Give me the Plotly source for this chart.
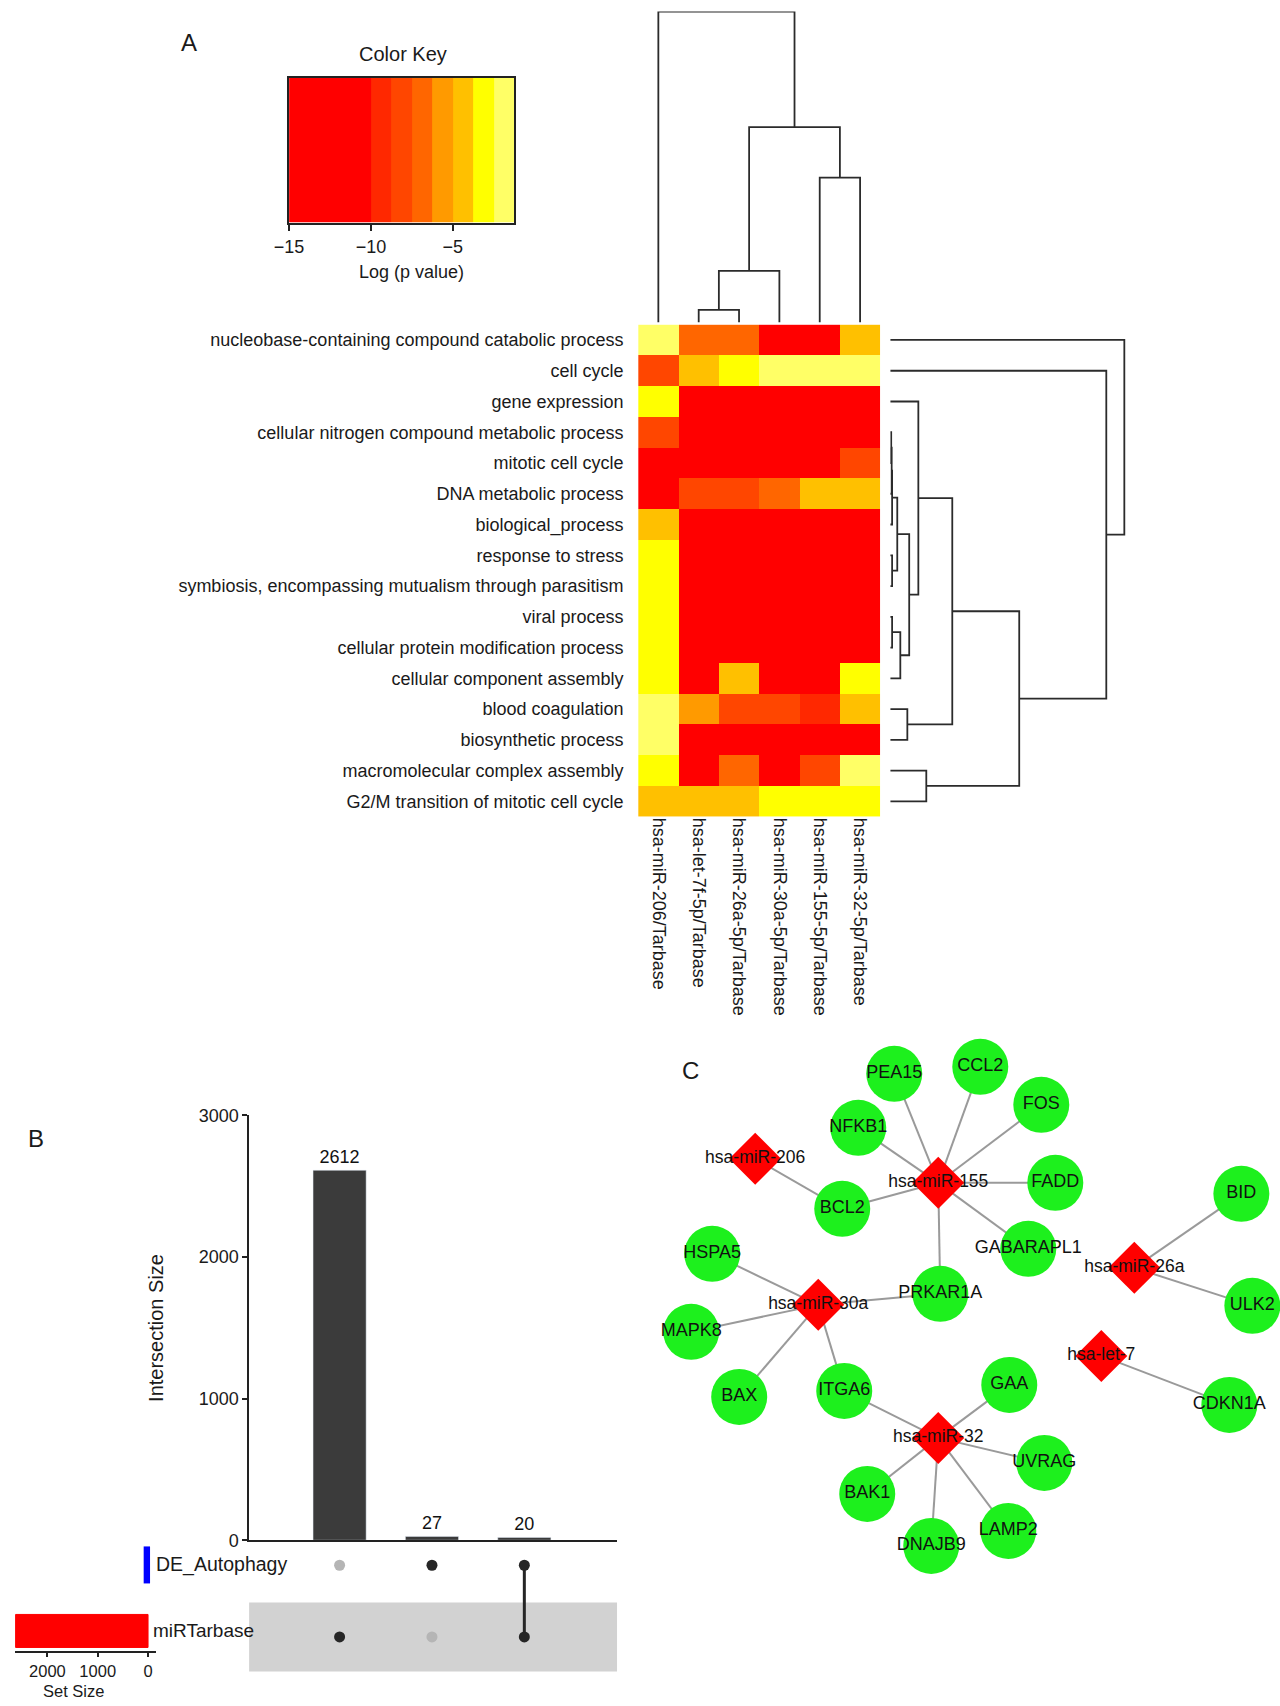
import plotly.graph_objects as go

W, H = 1280, 1706
FONT = "Liberation Sans, Arial, Helvetica, sans-serif"

# ---------------- Panel A: GO enrichment heatmap ----------------
go_terms = [
    "nucleobase-containing compound catabolic process", "cell cycle", "gene expression",
    "cellular nitrogen compound metabolic process", "mitotic cell cycle", "DNA metabolic process",
    "biological_process", "response to stress",
    "symbiosis, encompassing mutualism through parasitism", "viral process",
    "cellular protein modification process", "cellular component assembly",
    "blood coagulation", "biosynthetic process", "macromolecular complex assembly",
    "G2/M transition of mitotic cell cycle",
]
mirna_cols = [
    "hsa-miR-206/Tarbase", "hsa-let-7f-5p/Tarbase", "hsa-miR-26a-5p/Tarbase",
    "hsa-miR-30a-5p/Tarbase", "hsa-miR-155-5p/Tarbase", "hsa-miR-32-5p/Tarbase",
]
log_p = [
    [-1.9, -6.9, -6.9, -13.0, -13.0, -4.4],
    [-8.1, -4.4, -3.1, -1.9, -1.9, -1.9],
    [-3.1, -13.0, -13.0, -13.0, -13.0, -13.0],
    [-8.1, -13.0, -13.0, -13.0, -13.0, -13.0],
    [-13.0, -13.0, -13.0, -13.0, -13.0, -8.1],
    [-13.0, -8.1, -8.1, -6.9, -4.4, -4.4],
    [-4.4, -13.0, -13.0, -13.0, -13.0, -13.0],
    [-3.1, -13.0, -13.0, -13.0, -13.0, -13.0],
    [-3.1, -13.0, -13.0, -13.0, -13.0, -13.0],
    [-3.1, -13.0, -13.0, -13.0, -13.0, -13.0],
    [-3.1, -13.0, -13.0, -13.0, -13.0, -13.0],
    [-3.1, -13.0, -4.4, -13.0, -13.0, -3.1],
    [-1.9, -5.6, -8.1, -8.1, -9.4, -4.4],
    [-1.9, -13.0, -13.0, -13.0, -13.0, -13.0],
    [-3.1, -13.0, -6.9, -13.0, -8.1, -1.9],
    [-4.4, -4.4, -4.4, -3.1, -3.1, -3.1],
]
key_breaks = [-15, -10, -8.75, -7.5, -6.25, -5, -3.75, -2.5, -1.25]
key_colors = ["#FF0000", "#FF2800", "#FF4600", "#FF6600", "#FF9A00", "#FFC000", "#FFFF00", "#FFFF66"]
key_ticks = [-15, -10, -5]

# dendrogram merges (R hclust style: negative = leaf, positive = earlier merge)
col_merges = [(-2, -3, 0.41), (1, -4, 1.66), (-5, -6, 4.66), (2, 3, 6.28), (-1, 4, 10.0)]
row_merges = [
    (-4, -5, 0.04), (1, -6, 0.06), (2, -7, 0.08), (-8, -9, 0.08), (3, 4, 0.30),
    (-10, -11, 0.08), (6, -12, 0.43), (5, 7, 0.81), (-3, 8, 1.2), (-13, -14, 0.73),
    (9, 10, 2.65), (-15, -16, 1.54), (11, 12, 5.51), (-2, 13, 9.23), (-1, 14, 10.0),
]

# ---------------- Panel B: UpSet ----------------
intersect_sizes = [2612, 27, 20]
set_names = ["DE_Autophagy", "miRTarbase"]
set_sizes = [47, 2632]
set_colors = ["#0000FF", "#FF0000"]
membership = [[0, 1], [1, 0], [1, 1]]  # per intersection: (DE_Autophagy, miRTarbase)
inter_ticks = [0, 1000, 2000, 3000]
setsize_ticks = [0, 1000, 2000]

# ---------------- Panel C: miRNA-target network ----------------
mirna_nodes = ["hsa-miR-206", "hsa-miR-155", "hsa-miR-26a", "hsa-miR-30a", "hsa-let-7", "hsa-miR-32"]
mirna_x = [114, 297, 493, 177, 460, 297]
mirna_y = [158, 182, 267, 304, 355, 437]
gene_nodes = ["PEA15", "CCL2", "FOS", "NFKB1", "FADD", "BCL2", "GABARAPL1", "HSPA5", "PRKAR1A",
              "BID", "ULK2", "MAPK8", "CDKN1A", "BAX", "ITGA6", "GAA", "UVRAG", "BAK1", "LAMP2", "DNAJB9"]
gene_x = [253, 339, 400, 217, 414, 201, 387, 71, 299, 600, 611, 50, 588, 98, 203, 368, 403, 226, 367, 290]
gene_y = [73, 66, 104, 127, 182, 208, 248, 253, 293, 193, 305, 331, 404, 396, 390, 384, 462, 493, 530, 545]
edges = [
    ("hsa-miR-206", "BCL2"),
    ("hsa-miR-155", "NFKB1"), ("hsa-miR-155", "PEA15"), ("hsa-miR-155", "CCL2"),
    ("hsa-miR-155", "FOS"), ("hsa-miR-155", "FADD"), ("hsa-miR-155", "GABARAPL1"),
    ("hsa-miR-155", "PRKAR1A"), ("hsa-miR-155", "BCL2"),
    ("hsa-miR-30a", "HSPA5"), ("hsa-miR-30a", "MAPK8"), ("hsa-miR-30a", "BAX"),
    ("hsa-miR-30a", "ITGA6"), ("hsa-miR-30a", "PRKAR1A"),
    ("hsa-miR-26a", "BID"), ("hsa-miR-26a", "ULK2"),
    ("hsa-let-7", "CDKN1A"),
    ("hsa-miR-32", "ITGA6"), ("hsa-miR-32", "GAA"), ("hsa-miR-32", "UVRAG"),
    ("hsa-miR-32", "LAMP2"), ("hsa-miR-32", "DNAJB9"), ("hsa-miR-32", "BAK1"),
]

# ---------------- helpers ----------------
# small correction for the capture's observed scale/offset
S_CAP, OX, OY = 0.988, 14.0, 9.5


def tx(p):
    return (p - OX) / S_CAP


def ty(p):
    return (p - OY) / S_CAP


def xdom(a, b):
    return [max(0.0, tx(a) / W), min(1.0, tx(b) / W)]


def ydom(top, bottom):
    return [max(0.0, 1 - ty(bottom) / H), min(1.0, 1 - ty(top) / H)]


def dendro(merges, n):
    pos, hgt = {}, {}
    for i in range(n):
        pos[-(i + 1)] = i
        hgt[-(i + 1)] = 0.0
    p, h = [], []
    for k, (a, b, ht) in enumerate(merges, start=1):
        pa, pb = pos[a], pos[b]
        p += [pa, pa, pb, pb, None]
        h += [hgt[a], ht, ht, hgt[b], None]
        pos[k] = (pa + pb) / 2
        hgt[k] = ht
    return p, h


zmin, zmax = key_breaks[0], key_breaks[-1]
cscale = []
for i, c in enumerate(key_colors):
    a = (key_breaks[i] - zmin) / (zmax - zmin)
    b = (key_breaks[i + 1] - zmin) / (zmax - zmin)
    cscale += [[a, c], [b, c]]

fig = go.Figure()

# heatmap
fig.add_trace(go.Heatmap(z=log_p, x=list(range(len(mirna_cols))), y=list(range(len(go_terms))),
                         colorscale=cscale, zmin=zmin, zmax=zmax, showscale=False,
                         hoverinfo="skip", xaxis="x", yaxis="y"))
# column dendrogram
cp, ch = dendro(col_merges, len(mirna_cols))
fig.add_trace(go.Scatter(x=cp, y=ch, mode="lines", line=dict(color="#2b2b2b", width=1.8),
                         hoverinfo="skip", xaxis="x2", yaxis="y2", cliponaxis=False))
# row dendrogram
rp, rh = dendro(row_merges, len(go_terms))
fig.add_trace(go.Scatter(x=rh, y=rp, mode="lines", line=dict(color="#2b2b2b", width=1.8),
                         hoverinfo="skip", xaxis="x3", yaxis="y3", cliponaxis=False))
# color key
key_mids = [(key_breaks[i] + key_breaks[i + 1]) / 2 for i in range(len(key_colors))]
fig.add_trace(go.Heatmap(z=[key_mids], x=key_breaks, y=[0, 1], colorscale=cscale,
                         zmin=zmin, zmax=zmax, showscale=False, hoverinfo="skip",
                         xaxis="x4", yaxis="y4"))

# UpSet intersection bars
inter_x = list(range(len(intersect_sizes)))
fig.add_trace(go.Bar(x=inter_x, y=intersect_sizes, width=0.575, marker_color="#3b3b3b",
                     text=[str(v) for v in intersect_sizes], textposition="outside",
                     textfont=dict(size=18, color="#111", family=FONT), cliponaxis=False,
                     hoverinfo="skip", xaxis="x5", yaxis="y5"))
# matrix
set_rows = [len(set_names) - 1 - j for j in range(len(set_names))]  # DE on top
for i, mem in enumerate(membership):
    ys_in = [set_rows[j] for j in range(len(set_names)) if mem[j]]
    if len(ys_in) > 1:
        fig.add_trace(go.Scatter(x=[i, i], y=[min(ys_in), max(ys_in)], mode="lines",
                                 line=dict(color="#262626", width=3), hoverinfo="skip",
                                 xaxis="x6", yaxis="y6"))
dot_x, dot_y, dot_c = [], [], []
for i, mem in enumerate(membership):
    for j in range(len(set_names)):
        dot_x.append(i)
        dot_y.append(set_rows[j])
        dot_c.append("#262626" if mem[j] else "#b5b5b5")
fig.add_trace(go.Scatter(x=dot_x, y=dot_y, mode="markers", marker=dict(size=11, color=dot_c),
                         hoverinfo="skip", xaxis="x6", yaxis="y6", cliponaxis=False))
# set size bars
fig.add_trace(go.Bar(x=set_sizes, y=set_rows, orientation="h", width=0.5,
                     marker=dict(color=set_colors, line=dict(color=set_colors, width=[4, 1])),
                     hoverinfo="skip", xaxis="x7", yaxis="y7", cliponaxis=False))

# network
node_pos = {n: (x, y) for n, x, y in zip(mirna_nodes, mirna_x, mirna_y)}
node_pos.update({n: (x, y) for n, x, y in zip(gene_nodes, gene_x, gene_y)})
ex, ey = [], []
for a, b in edges:
    ex += [node_pos[a][0], node_pos[b][0], None]
    ey += [node_pos[a][1], node_pos[b][1], None]
fig.add_trace(go.Scatter(x=ex, y=ey, mode="lines", line=dict(color="#9a9a9a", width=2),
                         hoverinfo="skip", xaxis="x8", yaxis="y8", cliponaxis=False))
fig.add_trace(go.Scatter(x=gene_x, y=gene_y, mode="markers+text", text=gene_nodes,
                         textposition="middle center",
                         textfont=dict(size=18, color="#111111", family=FONT),
                         marker=dict(size=56, color="#1DF01D", line=dict(width=0)),
                         hoverinfo="skip", xaxis="x8", yaxis="y8", cliponaxis=False))
fig.add_trace(go.Scatter(x=mirna_x, y=mirna_y, mode="markers+text", text=mirna_nodes,
                         textposition="middle center",
                         textfont=dict(size=17.5, color="#111111", family=FONT),
                         marker=dict(size=40, symbol="diamond", color="#FF0000", line=dict(width=0)),
                         hoverinfo="skip", xaxis="x8", yaxis="y8", cliponaxis=False))

hidden = dict(visible=False, showgrid=False, zeroline=False)
blk = "#222222"

row_h = 71.7
mid_row0 = 1636  # px of bottom matrix row
ss_top, ss_bottom, ss_row0, ss_step = 1540, 1650, 1630, 66.0  # set-size panel px

fig.update_layout(
    width=W, height=H, margin=dict(l=0, r=0, t=0, b=0),
    paper_bgcolor="white", plot_bgcolor="rgba(0,0,0,0)", showlegend=False,
    font=dict(family=FONT, color="#1a1a1a"),
    xaxis=dict(domain=xdom(637, 879), range=[-0.5, 5.5], tickvals=list(range(len(mirna_cols))),
               ticktext=mirna_cols, tickangle=90, tickfont=dict(size=18, color="#1a1a1a"),
               ticks="", showgrid=False, zeroline=False, showline=False, anchor="y"),
    yaxis=dict(domain=ydom(324, 816), range=[len(go_terms) - 0.5, -0.5],
               tickvals=list(range(len(go_terms))), ticktext=go_terms,
               tickfont=dict(size=18, color="#1a1a1a"), ticks="outside", ticklen=10,
               tickcolor="rgba(0,0,0,0)", showgrid=False, zeroline=False, showline=False, anchor="x"),
    xaxis2=dict(domain=xdom(637, 879), range=[-0.5, 5.5], anchor="y2", **hidden),
    yaxis2=dict(domain=ydom(11, 322), range=[0, 10.0], anchor="x2", **hidden),
    xaxis3=dict(domain=xdom(889, 1125), range=[0, 10.085], anchor="y3", **hidden),
    yaxis3=dict(domain=ydom(324, 816), range=[len(go_terms) - 0.5, -0.5], anchor="x3", **hidden),
    xaxis4=dict(domain=xdom(288, 513), range=[zmin, zmax], tickvals=key_ticks,
                ticktext=[("−" + str(abs(t))) if t < 0 else str(t) for t in key_ticks],
                tickfont=dict(size=18, color="#1a1a1a"), ticks="outside", ticklen=7, tickwidth=1.5,
                tickcolor=blk, showline=True, mirror=True, linecolor=blk, linewidth=1.5,
                showgrid=False, zeroline=False, anchor="y4"),
    yaxis4=dict(domain=ydom(77, 222), range=[0, 1], showticklabels=False, ticks="",
                showline=True, mirror=True, linecolor=blk, linewidth=1.5,
                showgrid=False, zeroline=False, anchor="x4"),
    xaxis5=dict(domain=xdom(248, 616), range=[-0.98, 3.005], showticklabels=False, ticks="",
                showline=True, linecolor=blk, linewidth=1.5, showgrid=False, zeroline=False,
                anchor="y5"),
    yaxis5=dict(domain=ydom(1114.5, 1539.3), range=[0, 3000], tickvals=inter_ticks,
                tickfont=dict(size=18, color="#1a1a1a"), ticks="outside", ticklen=5, tickwidth=1.5,
                tickcolor=blk, showline=True, linecolor=blk, linewidth=1.5,
                showgrid=False, zeroline=False, anchor="x5"),
    xaxis6=dict(domain=xdom(248, 616), range=[-0.98, 3.005], anchor="y6", **hidden),
    yaxis6=dict(domain=ydom(1540, 1680),
                range=[-(1680 - mid_row0) / row_h, 1 + (mid_row0 - row_h - 1540) / row_h],
                anchor="x6", **hidden),
    xaxis7=dict(domain=xdom(14, 155), range=[(147 - 14) / 0.0503, (147 - 155) / 0.0503],
                tickvals=setsize_ticks, tickfont=dict(size=16.5, color="#1a1a1a"), ticks="outside",
                ticklen=4, tickwidth=1.5, tickcolor=blk, showline=True, linecolor=blk, linewidth=1.5,
                showgrid=False, zeroline=False, anchor="y7"),
    yaxis7=dict(domain=ydom(ss_top, ss_bottom),
                range=[-(ss_bottom - ss_row0) / ss_step, (ss_row0 - ss_top) / ss_step],
                anchor="x7", **hidden),
    xaxis8=dict(domain=xdom(640, 1278), range=[0, 638], anchor="y8", **hidden),
    yaxis8=dict(domain=ydom(1000, 1600), range=[600, 0], anchor="x8", **hidden),
)

# stripe behind the lower set row
fig.add_shape(type="rect", xref="x6", yref="y6", x0=-0.98, x1=3.005,
              y0=set_rows[1] - 0.48, y1=set_rows[1] + 0.48,
              fillcolor="#d2d2d2", line=dict(width=0), layer="below")


def ann(text, px, py, size, xanchor="center", angle=0, color="#1a1a1a"):
    fig.add_annotation(text=text, x=tx(px) / W, y=1 - ty(py) / H, xref="paper", yref="paper",
                       showarrow=False, xanchor=xanchor, yanchor="middle", textangle=angle,
                       font=dict(size=size, color=color, family=FONT))


ann("A", 188, 42, 24)
ann("B", 35, 1138, 24)
ann("C", 689, 1070, 24)
ann("Color Key", 402, 53, 20)
ann("Log (p value)", 410, 271, 18)
ann("Intersection Size", 155, 1327, 20, angle=-90)
ann("Set Size", 72, 1690, 16.5)
ann(set_names[0], 153, 1564, 19.5, xanchor="left")
ann(set_names[1], 150, 1630, 19, xanchor="left")

fig.write_html(
    "out.html",
    config={"displayModeBar": False},
    post_script=("document.body.style.margin='0';document.body.style.padding='0';"
                 "document.documentElement.style.overflow='hidden';"),
)
